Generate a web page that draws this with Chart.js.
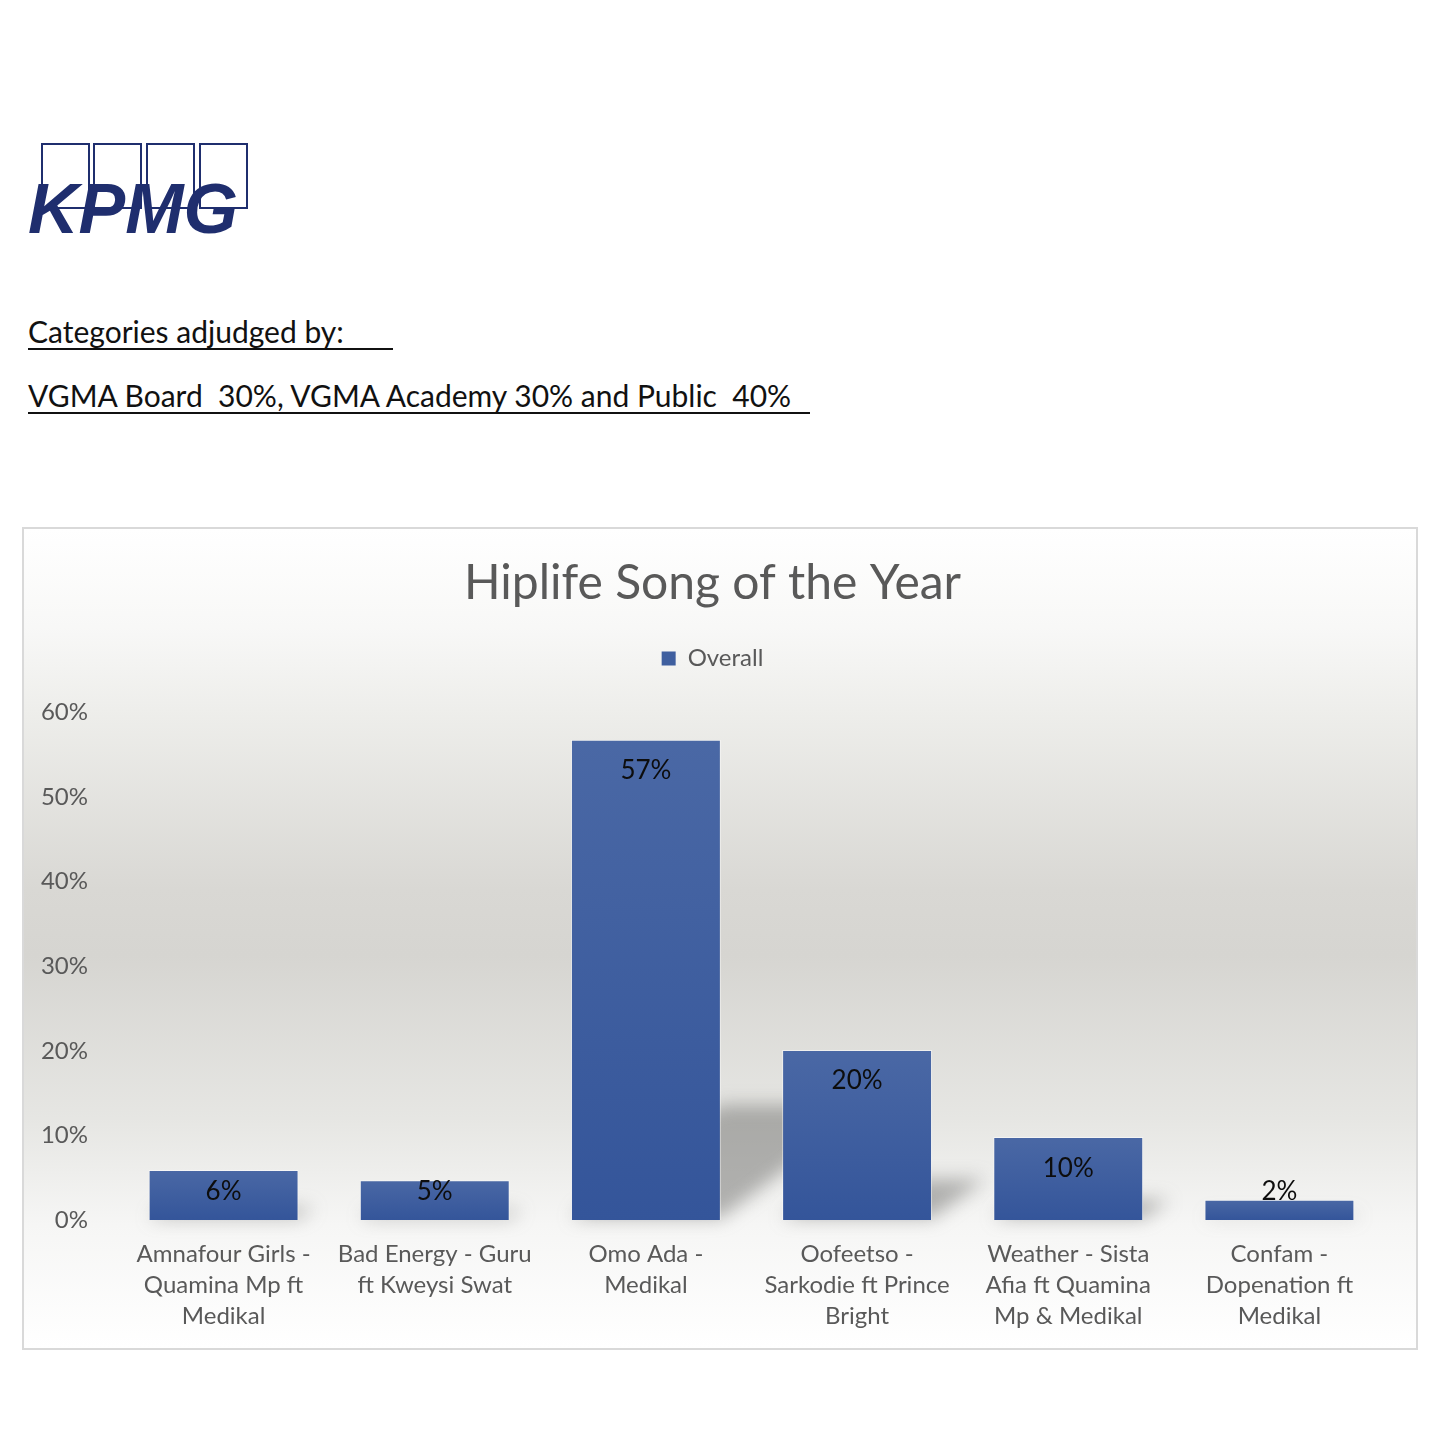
<!DOCTYPE html>
<html>
<head>
<meta charset="utf-8">
<script src="https://cdn.jsdelivr.net/npm/chart.js@4.4.1/dist/chart.umd.min.js"></script>
<style>
  html, body { margin: 0; padding: 0; background: #fff; }
  body { width: 1440px; height: 1440px; position: relative; overflow: hidden; font-family: Lato, "Open Sans", sans-serif; }
  .logo { position: absolute; left: 28px; top: 143px; width: 230px; height: 95px; }
  .logo .box { position: absolute; top: 0; width: 45px; height: 62px; border: 2px solid #1f2e6e; }
  .logo .word { position: absolute; left: 0; top: 31px; font-family: "Liberation Sans", Arial, sans-serif; font-weight: bold; font-style: italic; font-size: 70px; line-height: 70px; color: #1f2e6e; letter-spacing: 0; }
  .note { position: absolute; left: 28px; color: #111; font-size: 30px; line-height: 34px; border-bottom: 2px solid #111; white-space: pre; }
  #wrap { position: absolute; left: 22px; top: 527px; width: 1392px; height: 819px; border: 2px solid #d9d9d9;
    background: linear-gradient(to bottom, #ffffff 0%, #f8f8f7 12%, #eeeeeb 22%, #d9d8d4 44%, #d6d5d1 52%, #e6e6e3 72%, #f6f6f5 85%, #ffffff 100%); }
  canvas { display: block; }
</style>
</head>
<body>
<div class="logo">
  <div class="box" style="left:13px"></div>
  <div class="box" style="left:65px"></div>
  <div class="box" style="left:118px"></div>
  <div class="box" style="left:171px"></div>
  <div class="word">KPMG</div>
</div>
<div class="note" style="top:314px; width:365px;">Categories adjudged by:</div>
<div class="note" style="top:378px; width:782px;">VGMA Board  30%, VGMA Academy 30% and Public  40%</div>

<div id="wrap"><canvas id="chart" width="1392" height="819"></canvas></div>

<script>
// Hiplife Song of the Year - overall share
const songs = [
  ["Amnafour Girls -", "Quamina Mp ft", "Medikal"],
  ["Bad Energy - Guru", "ft Kweysi Swat"],
  ["Omo Ada -", "Medikal"],
  ["Oofeetso -", "Sarkodie ft Prince", "Bright"],
  ["Weather - Sista", "Afia ft Quamina", "Mp & Medikal"],
  ["Confam -", "Dopenation ft", "Medikal"]
];
const overall = [5.9, 4.7, 56.8, 20.1, 9.8, 2.4];
const yTicks = [0, 10, 20, 30, 40, 50, 60];

const FONT = 'Lato, "Open Sans", sans-serif';
const GREY = '#595959';

// soft perspective shadow behind each bar
const barShadow = {
  id: 'barShadow',
  beforeDatasetsDraw(chart) {
    const ctx = chart.ctx;
    const meta = chart.getDatasetMeta(0);
    ctx.save();
    ctx.filter = 'blur(9px)';
    ctx.fillStyle = 'rgba(110,110,108,0.5)';
    meta.data.forEach(bar => {
      const l = bar.x - bar.width / 2, r = bar.x + bar.width / 2;
      const h = bar.base - bar.y;
      const sh = h * 0.24, shift = sh * 1.3;
      ctx.beginPath();
      ctx.moveTo(l, bar.base - 2);
      ctx.lineTo(r, bar.base - 2);
      ctx.lineTo(r + shift, bar.base - sh);
      ctx.lineTo(l + shift, bar.base - sh);
      ctx.closePath();
      ctx.fill();
    });
    ctx.restore();
  }
};

// value labels just inside the top of each bar
const barValues = {
  id: 'barValues',
  afterDatasetsDraw(chart) {
    const ctx = chart.ctx;
    const meta = chart.getDatasetMeta(0);
    ctx.save();
    ctx.font = '26px ' + FONT;
    ctx.fillStyle = '#0d0d0d';
    ctx.textAlign = 'center';
    ctx.textBaseline = 'middle';
    meta.data.forEach((bar, i) => {
      const y = Math.min(bar.y + 31, bar.base - 28);
      ctx.fillText(Math.round(overall[i]) + '%', bar.x, y);
    });
    ctx.restore();
  }
};

new Chart(document.getElementById('chart'), {
  type: 'bar',
  data: {
    labels: songs,
    datasets: [{
      label: 'Overall',
      data: overall,
      backgroundColor: c => {
        const { chart } = c;
        if (!chart.chartArea) return '#3f5f9f';
        const y = chart.scales.y;
        const top = y.getPixelForValue(overall[c.dataIndex] || 0);
        const g = chart.ctx.createLinearGradient(0, top, 0, y.getPixelForValue(0));
        g.addColorStop(0, '#4a68a5');
        g.addColorStop(1, '#34559a');
        return g;
      },
      borderColor: 'rgba(255,255,255,0.5)',
      borderWidth: 1,
      categoryPercentage: 1,
      barPercentage: 0.71
    }]
  },
  options: {
    responsive: false,
    animation: false,
    layout: { padding: { left: 0, right: 15, top: 0, bottom: 0 } },
    plugins: {
      title: {
        display: true,
        text: 'Hiplife Song of the Year',
        color: GREY,
        font: { family: FONT, size: 48, weight: 'normal', lineHeight: 1.2 },
        padding: { top: 26, bottom: 24 }
      },
      legend: {
        position: 'top',
        labels: {
          color: GREY,
          font: { family: FONT, size: 24 },
          boxWidth: 14,
          boxHeight: 14,
          padding: 10,
          generateLabels: () => [{ text: 'Overall', fillStyle: '#3f5f9f', strokeStyle: '#3f5f9f', lineWidth: 0, fontColor: GREY }]
        }
      },
      tooltip: { enabled: false }
    },
    scales: {
      x: {
        grid: { display: false, drawTicks: false },
        border: { display: false },
        ticks: {
          color: GREY, font: { family: FONT, size: 24, lineHeight: 1.29 },
          padding: 19, maxRotation: 0, autoSkip: false
        },
        afterFit: s => { s.height = 128; }
      },
      spacer: {
        type: 'category',
        position: 'top',
        grid: { display: false, drawTicks: false },
        border: { display: false },
        ticks: { display: false },
        afterFit: s => { s.height = 32; }
      },
      y: {
        min: 0,
        max: 60,
        grid: { display: false, drawTicks: false },
        border: { display: false },
        afterBuildTicks: s => { s.ticks = yTicks.map(v => ({ value: v })); },
        ticks: {
          color: GREY, font: { family: FONT, size: 24 },
          padding: 30,
          callback: v => v + '%'
        },
        afterFit: s => { s.width = 94; }
      },
      yRight: {
        type: 'linear',
        position: 'right',
        display: true,
        grid: { display: false, drawTicks: false },
        border: { display: false },
        ticks: { display: false },
        afterFit: s => { s.width = 16; }
      }
    }
  },
  plugins: [barShadow, barValues]
});
</script>
</body>
</html>
